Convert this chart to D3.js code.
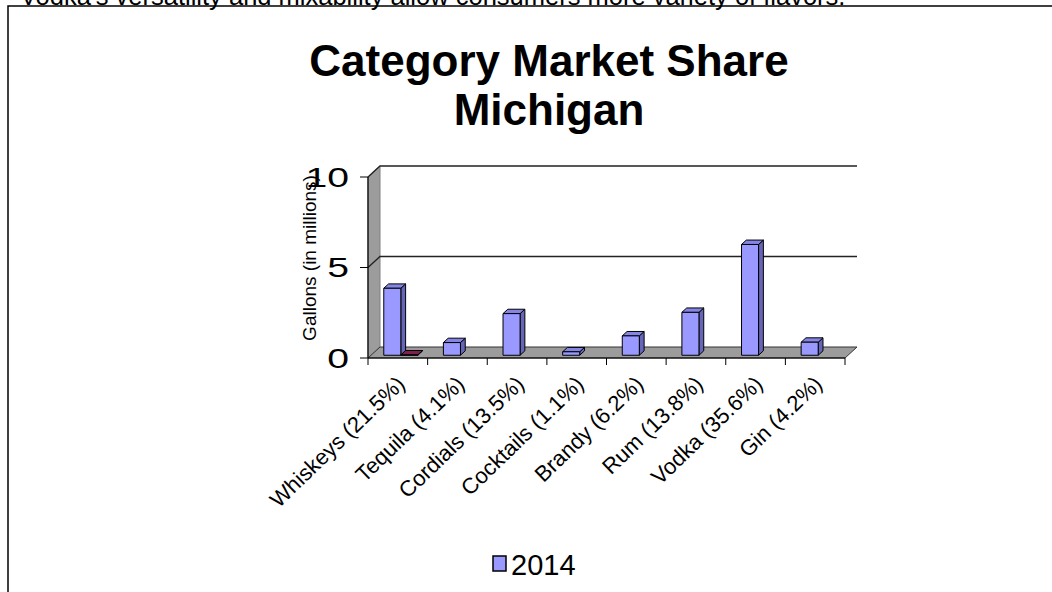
<!DOCTYPE html>
<html>
<head>
<meta charset="utf-8">
<script src="https://cdn.jsdelivr.net/npm/d3@7"></script>
<style>
  body { margin: 0; background: #fff; }
  svg { display: block; font-family: Arial, "Liberation Sans", sans-serif; }
</style>
</head>
<body>
<div id="chart"></div>
<script>
// values (gallons, millions)
const categories = ["Whiskeys (21.5%)", "Tequila (4.1%)", "Cordials (13.5%)", "Cocktails (1.1%)",
                    "Brandy (6.2%)", "Rum (13.8%)", "Vodka (35.6%)", "Gin (4.2%)"];
const series = ["2014", "other"];
const values2014 = [3.7, 0.7, 2.3, 0.19, 1.07, 2.37, 6.12, 0.72];
const valuesOther = [0.02, 0, 0, 0, 0, 0, 0, 0];
const yTicks = [0, 5, 10];

const W = 1052, H = 592;
const svg = d3.select("#chart").append("svg")
    .attr("width", W)
    .attr("height", H);

// caption from the page above (cut at the top in the original too) + frame
svg.append("text")
    .attr("x", 20).attr("y", 5)
    .style("font-size", "25.5px")
    .text("Vodka's versatility and mixability allow consumers more variety of flavors.");

svg.append("rect")
    .attr("x", 8).attr("y", 6)
    .attr("width", 1100).attr("height", 700)
    .style("fill", "none")
    .style("stroke", "#000")
    .style("stroke-width", 1.5);

// title
svg.append("text")
    .attr("x", 549).attr("y", 76)
    .attr("text-anchor", "middle")
    .style("font-size", "44px").style("font-weight", "bold")
    .text("Category Market Share");
svg.append("text")
    .attr("x", 549).attr("y", 125)
    .attr("text-anchor", "middle")
    .style("font-size", "44px").style("font-weight", "bold")
    .text("Michigan");

// scales
const x0 = d3.scaleBand().domain(categories).range([368, 845]);
const x1 = d3.scaleBand().domain(series).range([0, x0.bandwidth()])
    .paddingInner(0).paddingOuter(0.75);
const y = d3.scaleLinear().domain([0, 10]).range([358, 177]);

// depth offset of the 3d box
const DX = 12, DY = -11;
const pt = (x, v, d) => [x + d * DX, y(v) + d * DY];
const poly = pts => pts.map(p => p.join(",")).join(" ");

const xL = x0.range()[0], xR = x0.range()[1];

// left wall
svg.append("polygon")
    .attr("points", poly([pt(xL, 0, 0), pt(xL, 0, 1), pt(xL, 10, 1), pt(xL, 10, 0)]))
    .style("fill", "#9c9c9c")
    .style("stroke", "#808080");

// floor
svg.append("polygon")
    .attr("points", poly([pt(xL, 0, 0), pt(xR, 0, 0), pt(xR, 0, 1), pt(xL, 0, 1)]))
    .style("fill", "#9c9c9c")
    .style("stroke", "#333")
    .style("stroke-width", 1);

// gridlines on back wall + left wall
yTicks.filter(t => t > 0).forEach(t => {
    svg.append("polyline")
        .attr("points", poly([pt(xL, t, 0), pt(xL, t, 1), pt(xR, t, 1)]))
        .style("fill", "none")
        .style("stroke", "#222")
        .style("stroke-width", 1.3);
});

// bars
const D0 = 0.25, D1 = 0.65;
function drawBar(xa, w, v, cFront, cTop, cSide) {
    const xb = xa + w;
    const g = svg.append("g").style("stroke", "#000").style("stroke-width", 1)
        .style("stroke-linejoin", "round");
    g.append("polygon")
        .attr("points", poly([pt(xb, 0, D0), pt(xb, 0, D1), pt(xb, v, D1), pt(xb, v, D0)]))
        .style("fill", cSide);
    g.append("polygon")
        .attr("points", poly([pt(xa, v, D0), pt(xb, v, D0), pt(xb, v, D1), pt(xa, v, D1)]))
        .style("fill", cTop);
    g.append("polygon")
        .attr("points", poly([pt(xa, 0, D0), pt(xb, 0, D0), pt(xb, v, D0), pt(xa, v, D0)]))
        .style("fill", cFront);
}

categories.forEach((c, i) => {
    drawBar(x0(c) + x1("2014"), x1.bandwidth(), values2014[i], "#9999ff", "#8585e6", "#6666b8");
    if (valuesOther[i] > 0) {
        drawBar(x0(c) + x1("other"), x1.bandwidth(), valuesOther[i], "#993366", "#802050", "#661a44");
    }
});

// front axes
svg.append("line")
    .attr("x1", xL).attr("y1", y(0))
    .attr("x2", xL).attr("y2", y(10))
    .style("stroke", "#000").style("stroke-width", 1.2);
svg.append("line")
    .attr("x1", xL).attr("y1", y(0))
    .attr("x2", xR).attr("y2", y(0))
    .style("stroke", "#000").style("stroke-width", 1.2);

// y axis title (under the tick labels, as in the original)
svg.append("text")
    .attr("transform", `translate(316,258) rotate(-90)`)
    .attr("text-anchor", "middle")
    .style("font-size", "19px")
    .text("Gallons (in millions)");

// tick labels are drawn wide in the original
yTicks.forEach(t => {
    svg.append("line")
        .attr("x1", xL - 8).attr("x2", xL)
        .attr("y1", y(t)).attr("y2", y(t))
        .style("stroke", "#000");
    svg.append("text")
        .attr("transform", `translate(${xL - 19},${y(t)}) scale(1.45,1)`)
        .attr("dy", "0.36em")
        .attr("text-anchor", "end")
        .style("font-size", "27px")
        .text(t);
});

categories.concat([null]).forEach(c => {
    const xt = c ? x0(c) : xR;
    svg.append("line")
        .attr("x1", xt).attr("x2", xt)
        .attr("y1", y(0)).attr("y2", y(0) + 7)
        .style("stroke", "#000");
});

categories.forEach(c => {
    const cx = x0(c) + x0.bandwidth() / 2 + 3;
    svg.append("text")
        .attr("transform", `translate(${cx},${y(0) + 22}) rotate(-44)`)
        .attr("text-anchor", "end")
        .attr("dy", "0.35em")
        .style("font-size", "22px")
        .text(c);
});

// legend
svg.append("rect")
    .attr("x", 493).attr("y", 556)
    .attr("width", 13).attr("height", 15)
    .style("fill", "#9999ff")
    .style("stroke", "#000").style("stroke-width", 1.5);
svg.append("text")
    .attr("x", 511).attr("y", 575)
    .style("font-size", "29px")
    .text("2014");
</script>
</body>
</html>
